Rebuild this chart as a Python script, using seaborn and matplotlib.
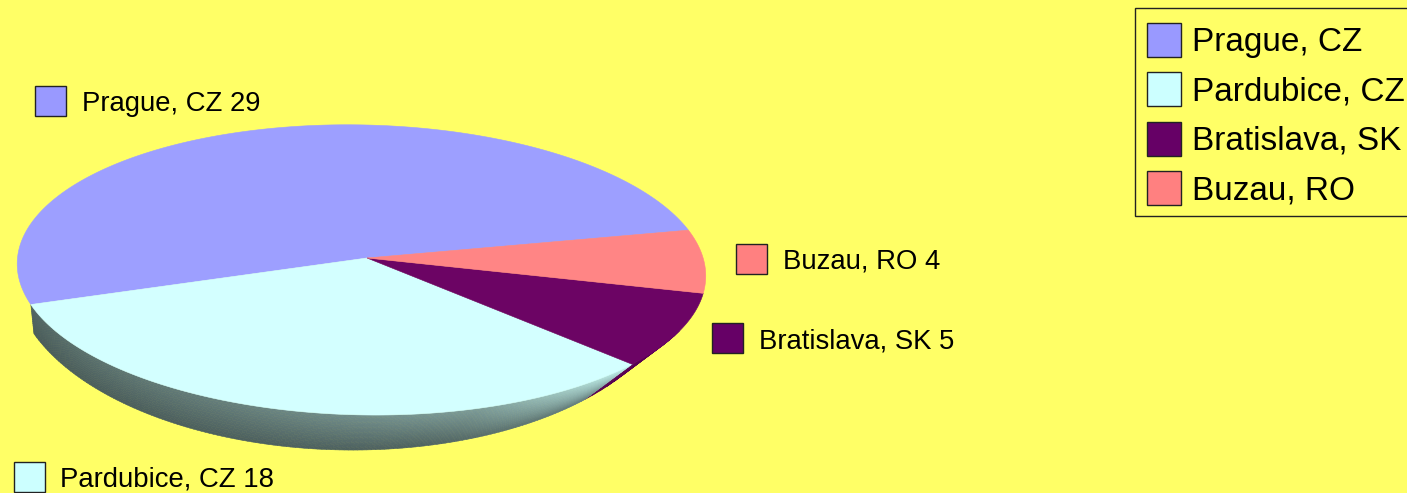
import numpy as np
import matplotlib
matplotlib.use("Agg")
import matplotlib.pyplot as plt
from matplotlib.patches import Rectangle, Polygon, Patch
from matplotlib.collections import PolyCollection
import seaborn as sns

cities = ["Prague, CZ", "Pardubice, CZ", "Bratislava, SK", "Buzau, RO"]
counts = [29, 18, 5, 4]
swatch_colors = ["#9999ff", "#ccffff", "#660066", "#ff8080"]
top_colors = ["#9d9fff", "#d3ffff", "#6c0464", "#ff8585"]
label_swatch_xy = [(35, 86), (14, 462), (712, 323), (736, 244)]
label_text_xy = [(82, 104), (60, 480), (759, 341), (783, 262)]
BG = "#ffff66"

sns.set_theme(style="white")
plt.rcParams["font.family"] = ["Liberation Sans", "DejaVu Sans"]

fig = plt.figure(figsize=(14.07, 4.93), dpi=100, facecolor=BG)
ax = fig.add_axes([0, 0, 1, 1])
ax.set_facecolor(BG)

wedges, _ = ax.pie(counts, colors=top_colors, startangle=14, counterclock=True)
spans = [(w.theta1, w.theta2) for w in wedges]
for w in wedges:
    w.remove()
ax.set_aspect("auto")
ax.set_xlim(0, 1407)
ax.set_ylim(493, 0)
ax.axis("off")


def top_rim(theta):
    """Tilted disc: unit circle seen in perspective, with a slight roll of the view."""
    th = np.mod(np.asarray(theta, dtype=float), 360)
    th = np.where(th < 14, th + 360, th)
    t = np.radians(np.interp(th, [14, 200, 258, 316, 348, 374],
                             [14, 200, 259, 317.5, 348, 374]))
    u, v = np.cos(t), np.sin(t)
    w = 1 + 0.0828 * v + 0.016 * u
    x = 367 + 343 * u / w
    return x, 258 - 144 * v / w + 0.018 * (x - 367)


def low_rim(theta):
    t = np.radians(theta)
    x = 345 + 332 * np.cos(t)
    return x, 277 - 173 * np.sin(t) + 0.012 * (x - 345)


# side wall, front part of the disc
base_cyan = np.array([0.80, 1.0, 0.985])
base_purple = np.array([0.40, 0.0, 0.38])
a0, a1 = spans[1]
b0, b1 = spans[2]


def wall(start, stop, base, nseg, nlay, shade):
    polys, cols = [], []
    th = np.linspace(start, stop, nseg + 1)
    ts = np.linspace(0, 1, nlay + 1)
    for i in range(nseg):
        for j in range(nlay):
            xa, ya = top_rim(th[i]); xb, yb = top_rim(th[i + 1])
            xc, yc = low_rim(th[i + 1]); xd, yd = low_rim(th[i])
            p = [(xa + (xd - xa) * ts[j], ya + (yd - ya) * ts[j]),
                 (xb + (xc - xb) * ts[j], yb + (yc - yb) * ts[j]),
                 (xb + (xc - xb) * ts[j + 1], yb + (yc - yb) * ts[j + 1]),
                 (xa + (xd - xa) * ts[j + 1], ya + (yd - ya) * ts[j + 1])]
            polys.append(p)
            s = (i + 0.5) / nseg
            f = shade(s, (j + 0.5) / nlay)
            cols.append(np.clip(base * f, 0, 1))
    pc = PolyCollection(polys, facecolors=cols, edgecolors=cols, linewidths=0.4, zorder=2)
    ax.add_collection(pc)


def cyan_shade(s, z):
    top = np.interp(s, [0, 0.4, 0.75, 1], [0.40, 0.50, 0.62, 0.98])
    bot = np.interp(s, [0, 0.7, 1], [0.36, 0.38, 0.50])
    return top + (bot - top) * z


wall(b0, b0 + 16, base_purple, 8, 1, lambda s, z: 0.85)
wall(a0, a1, base_cyan, 150, 14, cyan_shade)

# top faces
for (t0, t1), col in zip(spans, top_colors):
    th = np.linspace(t0, t1, 200)
    x, y = top_rim(th)
    ax.add_patch(Polygon(np.column_stack([np.r_[367, x], np.r_[258, y]]),
                         closed=True, facecolor=col, edgecolor=col, lw=0.4, zorder=3))

# data labels
for name, n, col, (sx, sy), (tx, ty) in zip(cities, counts, swatch_colors,
                                            label_swatch_xy, label_text_xy):
    ax.add_patch(Rectangle((sx, sy), 31, 30, facecolor=col, edgecolor="#222222", lw=1.0, zorder=4))
    ax.text(tx, ty, f"{name} {n}", fontsize=19.8, color="black", va="center", ha="left", zorder=4)

# legend: frame box runs past the right edge of the picture
ax.add_patch(Rectangle((1135, 8), 300, 208, facecolor=BG, edgecolor="#222222", lw=1.0, zorder=4))
handles = [Patch(facecolor=c, edgecolor="#222222", lw=1.0) for c in swatch_colors]
leg = ax.legend(handles, cities, loc="upper left", bbox_to_anchor=(1147, 23),
                bbox_transform=ax.transData, borderaxespad=0, fontsize=24,
                frameon=False, handlelength=1.02, handleheight=1.2, handletextpad=0.33,
                labelspacing=0.42, borderpad=0, labelcolor="black")
leg.set_zorder(5)

fig.savefig("out.png", dpi=100, facecolor=BG)
